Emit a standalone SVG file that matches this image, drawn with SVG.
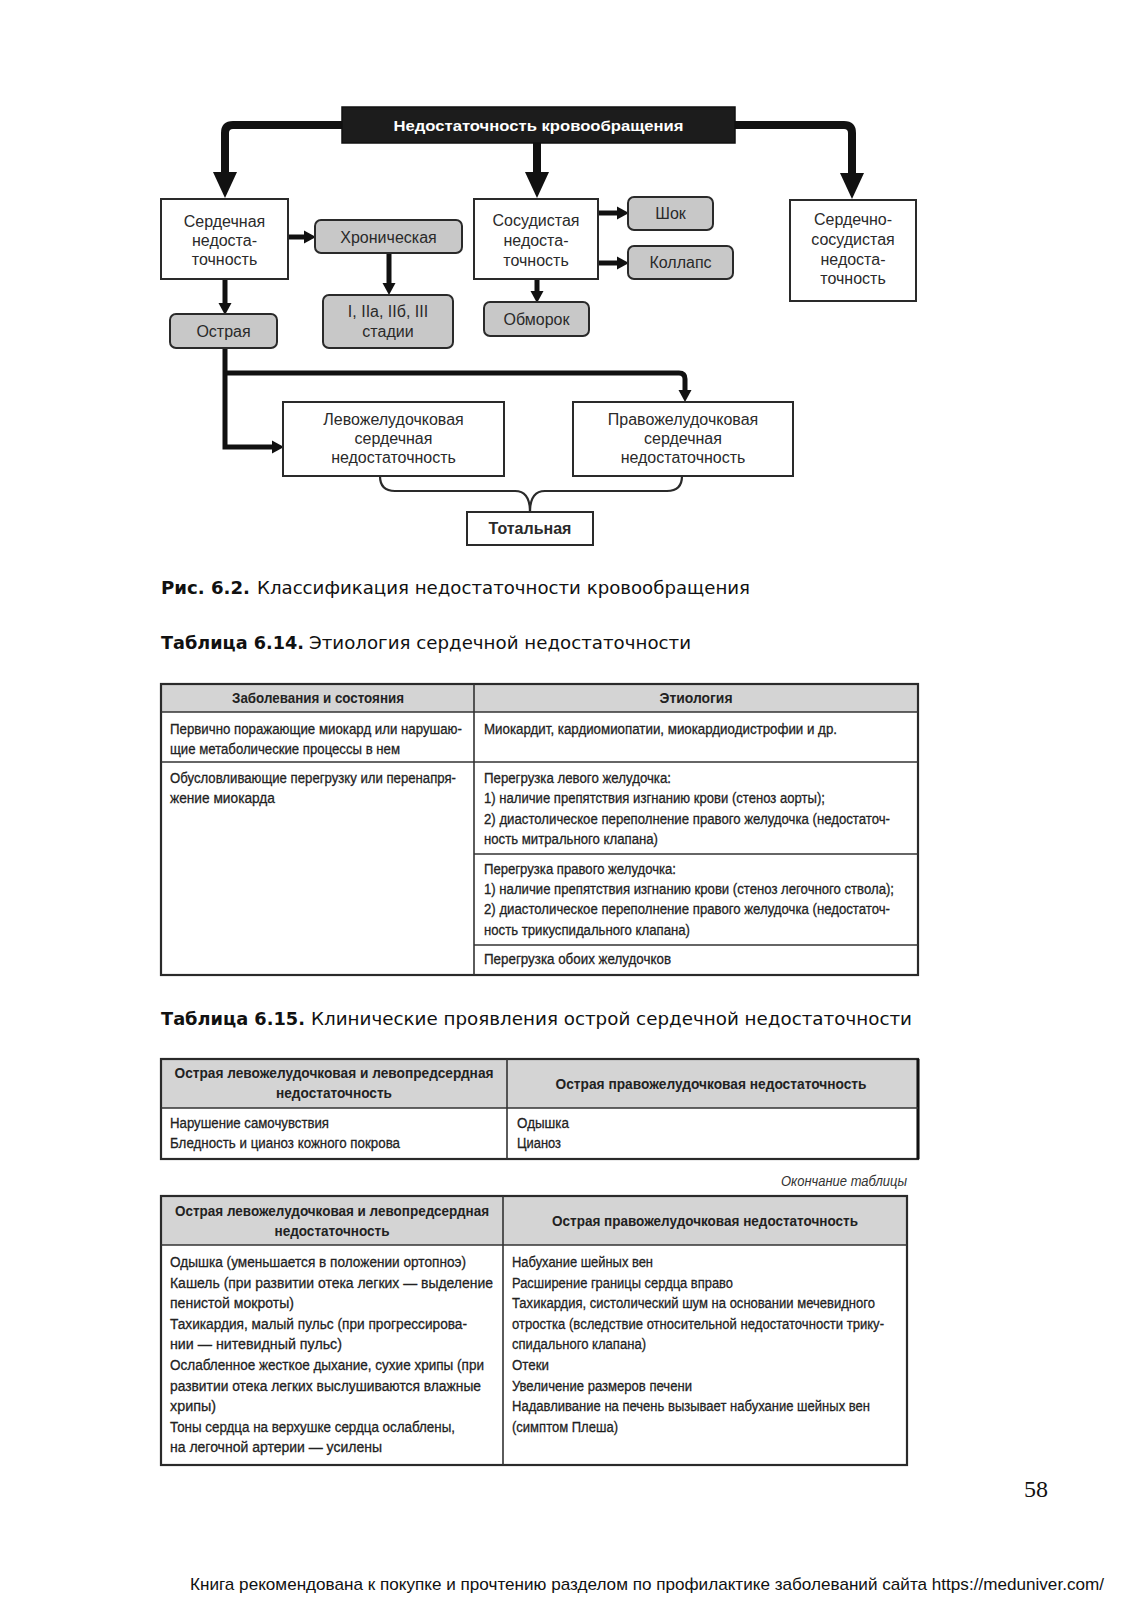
<svg xmlns="http://www.w3.org/2000/svg" width="1132" height="1600" viewBox="0 0 1132 1600">
<defs>
<style>
.box{fill:#fff;stroke:#2a2a2a;stroke-width:2}
.gbox{fill:#c8c8c8;stroke:#2a2a2a;stroke-width:2}
.nt{font-family:"Liberation Sans",Arial,sans-serif;font-size:16px;fill:#2a2a2a;text-anchor:middle}
.nb{font-family:"Liberation Sans",Arial,sans-serif;font-size:16px;font-weight:bold;fill:#2a2a2a;text-anchor:middle}
.thick{fill:none;stroke:#111;stroke-width:8}
.med{fill:none;stroke:#111;stroke-width:5}
.brace{fill:none;stroke:#2a2a2a;stroke-width:2.2}
.cap{font-family:"DejaVu Sans",Verdana,sans-serif;font-size:17px;fill:#111}
.capb{font-family:"DejaVu Sans",Verdana,sans-serif;font-size:17px;font-weight:bold;fill:#111}
.tt{font-family:"Liberation Sans",Arial,sans-serif;font-size:15.5px;fill:#222;stroke:#222;stroke-width:0.3}
.th{font-family:"Liberation Sans",Arial,sans-serif;font-size:15.5px;font-weight:bold;fill:#222;text-anchor:middle}
.tb{fill:none;stroke:#2a2a2a;stroke-width:2.2}
.tl{stroke:#333;stroke-width:1.6}
.hd{fill:#d4d4d4}
</style>
<marker id="bigArrow" markerUnits="userSpaceOnUse" markerWidth="26" markerHeight="26" viewBox="0 -13 26 26" refX="0" refY="0" orient="auto">
<path d="M0,-12 L26,0 L0,12 Z" fill="#111"/>
</marker>
<marker id="medArrow" markerUnits="userSpaceOnUse" markerWidth="12" markerHeight="14" viewBox="0 -7 12 14" refX="0" refY="0" orient="auto">
<path d="M0,-6.5 L12,0 L0,6.5 Z" fill="#111"/>
</marker>
</defs>
<rect width="1132" height="1600" fill="#fff"/>

<g id="connectors">
<path class="thick" d="M342,125 H233 Q225,125 225,133 V172" marker-end="url(#bigArrow)"/>
<path class="thick" d="M537,143 V172" marker-end="url(#bigArrow)"/>
<path class="thick" d="M735,125 H844 Q852,125 852,133 V173" marker-end="url(#bigArrow)"/>
<path class="med" d="M288,237 H304" marker-end="url(#medArrow)"/>
<path class="med" d="M389,253 V283" marker-end="url(#medArrow)"/>
<path class="med" d="M225,279 V303" marker-end="url(#medArrow)"/>
<path class="med" d="M598,213 H617" marker-end="url(#medArrow)"/>
<path class="med" d="M598,263 H617" marker-end="url(#medArrow)"/>
<path class="med" d="M537,279 V291" marker-end="url(#medArrow)"/>
<path class="med" d="M225,348 V447 H272" marker-end="url(#medArrow)"/>
<path class="med" d="M225,373 H679 Q685,373 685,379 V390" marker-end="url(#medArrow)"/>
<path class="brace" d="M380,476 Q380,491 395,491 H515 Q530,491 530,512"/>
<path class="brace" d="M682,476 Q682,491 667,491 H545 Q530,491 530,512"/>
</g>

<g id="title">
<rect x="342" y="107" width="393" height="36" fill="#1c1c1c" stroke="#111" stroke-width="1.5"/>
<text x="538.5" y="130.5" font-family="Liberation Sans, Arial, sans-serif" font-size="15.5" font-weight="bold" fill="#fff" text-anchor="middle" textLength="290" lengthAdjust="spacingAndGlyphs">Недостаточность кровообращения</text>
</g>
<g id="cardiac">
<rect class="box" x="161" y="199" width="127" height="80"/>
<text class="nt" x="224.5" y="227">Сердечная</text>
<text class="nt" x="224.5" y="246">недоста-</text>
<text class="nt" x="224.5" y="265">точность</text>
</g>
<g id="chronic">
<rect class="gbox" x="315" y="220" width="147" height="33" rx="6"/>
<text class="nt" x="388.5" y="242.5">Хроническая</text>
</g>
<g id="stages">
<rect class="gbox" x="323" y="295" width="130" height="53" rx="6"/>
<text class="nt" x="388" y="317">I, IIa, IIб, III</text>
<text class="nt" x="388" y="337">стадии</text>
</g>
<g id="acute">
<rect class="gbox" x="170" y="314" width="107" height="34" rx="6"/>
<text class="nt" x="223.5" y="336.5">Острая</text>
</g>
<g id="vascular">
<rect class="box" x="474" y="199" width="124" height="80"/>
<text class="nt" x="536" y="226">Сосудистая</text>
<text class="nt" x="536" y="246">недоста-</text>
<text class="nt" x="536" y="266">точность</text>
</g>
<g id="shock">
<rect class="gbox" x="628" y="197" width="85" height="33" rx="6"/>
<text class="nt" x="670.5" y="219">Шок</text>
</g>
<g id="collapse">
<rect class="gbox" x="628" y="246" width="105" height="33" rx="6"/>
<text class="nt" x="680.5" y="268">Коллапс</text>
</g>
<g id="syncope">
<rect class="gbox" x="484" y="302" width="105" height="34" rx="6"/>
<text class="nt" x="536.5" y="324.5">Обморок</text>
</g>
<g id="cardiovascular">
<rect class="box" x="790" y="200" width="126" height="101"/>
<text class="nt" x="853" y="225">Сердечно-</text>
<text class="nt" x="853" y="245">сосудистая</text>
<text class="nt" x="853" y="265">недоста-</text>
<text class="nt" x="853" y="284">точность</text>
</g>
<g id="leftvent">
<rect class="box" x="283" y="402" width="221" height="74"/>
<text class="nt" x="393.5" y="425">Левожелудочковая</text>
<text class="nt" x="393.5" y="444">сердечная</text>
<text class="nt" x="393.5" y="463">недостаточность</text>
</g>
<g id="rightvent">
<rect class="box" x="573" y="402" width="220" height="74"/>
<text class="nt" x="683" y="425">Правожелудочковая</text>
<text class="nt" x="683" y="444">сердечная</text>
<text class="nt" x="683" y="463">недостаточность</text>
</g>
<g id="total">
<rect class="box" x="467" y="512" width="126" height="33"/>
<text class="nb" x="530" y="534">Тотальная</text>
</g>

<g id="captions">
<text class="capb" x="161" y="594" textLength="89" lengthAdjust="spacingAndGlyphs">Рис. 6.2.</text>
<text class="cap" x="257" y="594" textLength="493" lengthAdjust="spacingAndGlyphs">Классификация недостаточности кровообращения</text>
<text class="capb" x="161" y="649" textLength="143" lengthAdjust="spacingAndGlyphs">Таблица 6.14.</text>
<text class="cap" x="309" y="649" textLength="382" lengthAdjust="spacingAndGlyphs">Этиология сердечной недостаточности</text>
<text class="capb" x="161" y="1025" textLength="144" lengthAdjust="spacingAndGlyphs">Таблица 6.15.</text>
<text class="cap" x="311" y="1025" textLength="601" lengthAdjust="spacingAndGlyphs">Клинические проявления острой сердечной недостаточности</text>
</g>

<g id="table614">
<rect class="hd" x="161" y="684" width="757" height="28"/>
<rect class="tb" x="161" y="684" width="757" height="291"/>
<line class="tl" x1="161" y1="712" x2="918" y2="712" stroke-width="2.2"/>
<line class="tl" x1="161" y1="762" x2="918" y2="762"/>
<line class="tl" x1="474" y1="684" x2="474" y2="975"/>
<line class="tl" x1="474" y1="854" x2="918" y2="854"/>
<line class="tl" x1="474" y1="945" x2="918" y2="945"/>
<text class="th" x="318" y="703" textLength="172" lengthAdjust="spacingAndGlyphs">Заболевания и состояния</text>
<text class="th" x="696" y="703" textLength="73" lengthAdjust="spacingAndGlyphs">Этиология</text>
<text class="tt" x="170" y="734" textLength="292" lengthAdjust="spacingAndGlyphs">Первично поражающие миокард или нарушаю-</text>
<text class="tt" x="170" y="754" textLength="230" lengthAdjust="spacingAndGlyphs">щие метаболические процессы в нем</text>
<text class="tt" x="484" y="734" textLength="353" lengthAdjust="spacingAndGlyphs">Миокардит, кардиомиопатии, миокардиодистрофии и др.</text>
<text class="tt" x="170" y="783" textLength="286" lengthAdjust="spacingAndGlyphs">Обусловливающие перегрузку или перенапря-</text>
<text class="tt" x="170" y="803" textLength="105" lengthAdjust="spacingAndGlyphs">жение миокарда</text>
<text class="tt" x="484" y="783" textLength="187" lengthAdjust="spacingAndGlyphs">Перегрузка левого желудочка:</text>
<text class="tt" x="484" y="803" textLength="341" lengthAdjust="spacingAndGlyphs">1) наличие препятствия изгнанию крови (стеноз аорты);</text>
<text class="tt" x="484" y="824" textLength="406" lengthAdjust="spacingAndGlyphs">2) диастолическое переполнение правого желудочка (недостаточ-</text>
<text class="tt" x="484" y="844" textLength="174" lengthAdjust="spacingAndGlyphs">ность митрального клапана)</text>
<text class="tt" x="484" y="874" textLength="192" lengthAdjust="spacingAndGlyphs">Перегрузка правого желудочка:</text>
<text class="tt" x="484" y="894" textLength="410" lengthAdjust="spacingAndGlyphs">1) наличие препятствия изгнанию крови (стеноз легочного ствола);</text>
<text class="tt" x="484" y="914" textLength="406" lengthAdjust="spacingAndGlyphs">2) диастолическое переполнение правого желудочка (недостаточ-</text>
<text class="tt" x="484" y="935" textLength="206" lengthAdjust="spacingAndGlyphs">ность трикуспидального клапана)</text>
<text class="tt" x="484" y="964" textLength="187" lengthAdjust="spacingAndGlyphs">Перегрузка обоих желудочков</text>
</g>

<g id="table615a">
<rect class="hd" x="161" y="1059" width="757" height="49"/>
<rect class="tb" x="161" y="1059" width="757" height="100"/>
<line x1="918" y1="1059" x2="918" y2="1159" stroke="#111" stroke-width="3"/>
<line class="tl" x1="161" y1="1108" x2="918" y2="1108" stroke-width="2.2"/>
<line class="tl" x1="507" y1="1059" x2="507" y2="1159"/>
<text class="th" x="334" y="1078" textLength="319" lengthAdjust="spacingAndGlyphs">Острая левожелудочковая и левопредсердная</text>
<text class="th" x="334" y="1098" textLength="116" lengthAdjust="spacingAndGlyphs">недостаточность</text>
<text class="th" x="711" y="1089" textLength="311" lengthAdjust="spacingAndGlyphs">Острая правожелудочковая недостаточность</text>
<text class="tt" x="170" y="1128" textLength="159" lengthAdjust="spacingAndGlyphs">Нарушение самочувствия</text>
<text class="tt" x="170" y="1148" textLength="230" lengthAdjust="spacingAndGlyphs">Бледность и цианоз кожного покрова</text>
<text class="tt" x="517" y="1128" textLength="52" lengthAdjust="spacingAndGlyphs">Одышка</text>
<text class="tt" x="517" y="1148" textLength="44" lengthAdjust="spacingAndGlyphs">Цианоз</text>
</g>

<text x="907" y="1186" font-family="Liberation Sans, Arial, sans-serif" font-size="15.5" font-style="italic" fill="#333" text-anchor="end" textLength="126" lengthAdjust="spacingAndGlyphs">Окончание таблицы</text>

<g id="table615b">
<rect class="hd" x="161" y="1196" width="746" height="49"/>
<rect class="tb" x="161" y="1196" width="746" height="269"/>
<line class="tl" x1="161" y1="1245" x2="907" y2="1245" stroke-width="2.2"/>
<line class="tl" x1="503" y1="1196" x2="503" y2="1465"/>
<text class="th" x="332" y="1216" textLength="314" lengthAdjust="spacingAndGlyphs">Острая левожелудочковая и левопредсердная</text>
<text class="th" x="332" y="1236" textLength="115" lengthAdjust="spacingAndGlyphs">недостаточность</text>
<text class="th" x="705" y="1226" textLength="306" lengthAdjust="spacingAndGlyphs">Острая правожелудочковая недостаточность</text>
<text class="tt" x="170" y="1267" textLength="296" lengthAdjust="spacingAndGlyphs">Одышка (уменьшается в положении ортопноэ)</text>
<text class="tt" x="170" y="1287.6" textLength="323" lengthAdjust="spacingAndGlyphs">Кашель (при развитии отека легких — выделение</text>
<text class="tt" x="170" y="1308.2" textLength="124" lengthAdjust="spacingAndGlyphs">пенистой мокроты)</text>
<text class="tt" x="170" y="1328.8" textLength="297" lengthAdjust="spacingAndGlyphs">Тахикардия, малый пульс (при прогрессирова-</text>
<text class="tt" x="170" y="1349.4" textLength="172" lengthAdjust="spacingAndGlyphs">нии — нитевидный пульс)</text>
<text class="tt" x="170" y="1370" textLength="314" lengthAdjust="spacingAndGlyphs">Ослабленное жесткое дыхание, сухие хрипы (при</text>
<text class="tt" x="170" y="1390.6" textLength="311" lengthAdjust="spacingAndGlyphs">развитии отека легких выслушиваются влажные</text>
<text class="tt" x="170" y="1411.2" textLength="46" lengthAdjust="spacingAndGlyphs">хрипы)</text>
<text class="tt" x="170" y="1431.8" textLength="285" lengthAdjust="spacingAndGlyphs">Тоны сердца на верхушке сердца ослаблены,</text>
<text class="tt" x="170" y="1452.4" textLength="212" lengthAdjust="spacingAndGlyphs">на легочной артерии — усилены</text>
<text class="tt" x="512" y="1267" textLength="141" lengthAdjust="spacingAndGlyphs">Набухание шейных вен</text>
<text class="tt" x="512" y="1287.6" textLength="221" lengthAdjust="spacingAndGlyphs">Расширение границы сердца вправо</text>
<text class="tt" x="512" y="1308.2" textLength="363" lengthAdjust="spacingAndGlyphs">Тахикардия, систолический шум на основании мечевидного</text>
<text class="tt" x="512" y="1328.8" textLength="372" lengthAdjust="spacingAndGlyphs">отростка (вследствие относительной недостаточности трику-</text>
<text class="tt" x="512" y="1349.4" textLength="134" lengthAdjust="spacingAndGlyphs">спидального клапана)</text>
<text class="tt" x="512" y="1370" textLength="37" lengthAdjust="spacingAndGlyphs">Отеки</text>
<text class="tt" x="512" y="1390.6" textLength="180" lengthAdjust="spacingAndGlyphs">Увеличение размеров печени</text>
<text class="tt" x="512" y="1411.2" textLength="358" lengthAdjust="spacingAndGlyphs">Надавливание на печень вызывает набухание шейных вен</text>
<text class="tt" x="512" y="1431.8" textLength="106" lengthAdjust="spacingAndGlyphs">(симптом Плеша)</text>
</g>

<text x="1024" y="1497" font-family="Liberation Serif, Times New Roman, serif" font-size="24" fill="#111">58</text>
<text x="190" y="1590" font-family="Liberation Sans, Arial, sans-serif" font-size="17" fill="#111" textLength="914" lengthAdjust="spacingAndGlyphs">Книга рекомендована к покупке и прочтению разделом по профилактике заболеваний сайта https://meduniver.com/</text>
</svg>
